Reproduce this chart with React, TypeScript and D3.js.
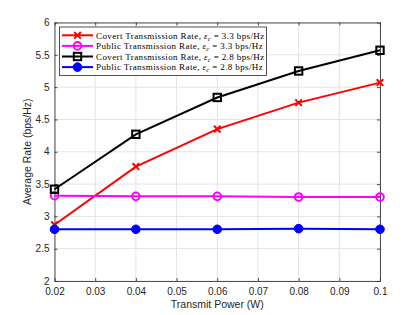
import React, { useEffect, useRef } from 'react';
import * as d3 from 'd3';

const powers = [0.02, 0.04, 0.06, 0.08, 0.1];
const covert33 = [2.87, 3.77, 4.35, 4.76, 5.07];
const public33 = [3.32, 3.31, 3.31, 3.3, 3.3];
const covert28 = [3.42, 4.27, 4.84, 5.25, 5.57];
const public28 = [2.8, 2.8, 2.8, 2.81, 2.8];
const xTicks = [0.02, 0.03, 0.04, 0.05, 0.06, 0.07, 0.08, 0.09, 0.1];
const yTicks = [2, 2.5, 3, 3.5, 4, 4.5, 5, 5.5, 6];

const series = [
  { name: 'Covert Transmission Rate', eps: '3.3', values: covert33, color: '#ff0000', marker: 'x' },
  { name: 'Public Transmission Rate', eps: '3.3', values: public33, color: '#ff00ff', marker: 'circle' },
  { name: 'Covert Transmission Rate', eps: '2.8', values: covert28, color: '#000000', marker: 'square' },
  { name: 'Public Transmission Rate', eps: '2.8', values: public28, color: '#0000ff', marker: 'dot' },
];

const W = 420;
const H = 315;
const margin = { top: 22.5, right: 40, bottom: 34, left: 54.5 };

const App: React.FC = () => {
  const ref = useRef<SVGSVGElement | null>(null);

  useEffect(() => {
    if (!ref.current) return;
    const svg = d3.select(ref.current);
    svg.selectAll('*').remove();

    const iw = W - margin.left - margin.right;
    const ih = H - margin.top - margin.bottom;
    const x = d3.scaleLinear().domain([0.02, 0.1]).range([0, iw]);
    const y = d3.scaleLinear().domain([2, 6]).range([ih, 0]);

    const g = svg.append('g').attr('transform', `translate(${margin.left},${margin.top})`);
    g.append('rect').attr('width', iw).attr('height', ih).attr('fill', '#fff');

    // grid
    g.selectAll('.gx').data(xTicks).enter().append('line')
      .attr('x1', d => x(d)).attr('x2', d => x(d)).attr('y1', 0).attr('y2', ih)
      .attr('stroke', '#e3e3e3').attr('stroke-width', 1);
    g.selectAll('.gy').data(yTicks).enter().append('line')
      .attr('y1', d => y(d)).attr('y2', d => y(d)).attr('x1', 0).attr('x2', iw)
      .attr('stroke', '#e3e3e3').attr('stroke-width', 1);

    // axes
    const axisColor = '#262626';
    const xb = g.append('g').attr('transform', `translate(0,${ih})`)
      .call(d3.axisBottom(x).tickValues(xTicks).tickFormat(d => `${+d}`).tickSizeInner(-3).tickSizeOuter(0).tickPadding(7));
    const yl = g.append('g')
      .call(d3.axisLeft(y).tickValues(yTicks).tickFormat(d => `${+d}`).tickSizeInner(-3).tickSizeOuter(0).tickPadding(5));
    g.append('g').call(d3.axisTop(x).tickValues(xTicks).tickFormat(() => '').tickSizeInner(-3).tickSizeOuter(0));
    g.append('g').attr('transform', `translate(${iw},0)`)
      .call(d3.axisRight(y).tickValues(yTicks).tickFormat(() => '').tickSizeInner(-3).tickSizeOuter(0));
    g.selectAll('.domain, .tick line').attr('stroke', axisColor).attr('stroke-width', 0.8);
    [xb, yl].forEach(a => a.selectAll('text')
      .attr('fill', axisColor).style('font-family', 'Liberation Sans, Arial, sans-serif').style('font-size', '10px'));

    // lines + markers
    const line = d3.line<number>().x((_, i) => x(powers[i])).y(d => y(d));
    series.forEach(s => {
      g.append('path').datum(s.values).attr('d', line)
        .attr('fill', 'none').attr('stroke', s.color).attr('stroke-width', 2);
      const mk = g.append('g');
      s.values.forEach((v, i) => drawMarker(mk, s.marker, x(powers[i]), y(v), s.color));
    });

    // legend
    const lx = 59.5, ly = 27, lw = 207, lh = 48.5;
    svg.append('rect').attr('x', lx).attr('y', ly).attr('width', lw).attr('height', lh)
      .attr('fill', '#fff').attr('stroke', axisColor).attr('stroke-width', 0.8);
    series.forEach((s, i) => {
      const cy = ly + 8.3 + i * 10.6;
      const lg = svg.append('g');
      lg.append('line').attr('x1', lx + 2.5).attr('x2', lx + 33.5).attr('y1', cy).attr('y2', cy)
        .attr('stroke', s.color).attr('stroke-width', 2);
      drawMarker(lg, s.marker, lx + 18, cy, s.color);
      const t = lg.append('text').attr('x', lx + 36.5).attr('y', cy + 3.2)
        .style('font-family', 'Liberation Serif, Times New Roman, serif').style('font-size', '9px')
        .style('letter-spacing', '0.38px').attr('fill', '#000');
      t.append('tspan').text(`${s.name}, `);
      t.append('tspan').style('font-style', 'italic').text('ε');
      t.append('tspan').attr('dy', 2).style('font-size', '6.5px').style('font-style', 'italic').text('c');
      t.append('tspan').attr('dy', -2).text(` = ${s.eps} bps/Hz`);
    });

    // axis labels
    svg.append('text').attr('x', margin.left + iw / 2).attr('y', H - 7.5).attr('text-anchor', 'middle')
      .attr('fill', axisColor).style('font-family', 'Liberation Sans, Arial, sans-serif').style('font-size', '10.5px')
      .text('Transmit Power (W)');
    svg.append('text').attr('transform', `translate(31,${margin.top + ih / 2}) rotate(-90)`).attr('text-anchor', 'middle')
      .attr('fill', axisColor).style('font-family', 'Liberation Sans, Arial, sans-serif').style('font-size', '10.5px')
      .text('Average Rate (bps/Hz)');
  }, []);

  return <svg ref={ref} width={W} height={H} style={{ position: 'absolute', left: 0, top: 0, background: '#fff' }} />;
};

function drawMarker(g: d3.Selection<SVGGElement, unknown, null, undefined>, type: string, cx: number, cy: number, color: string) {
  if (type === 'x') {
    const r = 3.3;
    g.append('path').attr('d', `M${cx - r},${cy - r}L${cx + r},${cy + r}M${cx - r},${cy + r}L${cx + r},${cy - r}`)
      .attr('stroke', color).attr('stroke-width', 2).attr('fill', 'none');
  } else if (type === 'circle') {
    g.append('circle').attr('cx', cx).attr('cy', cy).attr('r', 3.8)
      .attr('fill', 'none').attr('stroke', color).attr('stroke-width', 2);
  } else if (type === 'square') {
    g.append('rect').attr('x', cx - 3.7).attr('y', cy - 3.7).attr('width', 7.4).attr('height', 7.4)
      .attr('fill', 'none').attr('stroke', color).attr('stroke-width', 2);
  } else {
    g.append('circle').attr('cx', cx).attr('cy', cy).attr('r', 4.3).attr('fill', color).attr('stroke', color);
  }
}

export default App;
